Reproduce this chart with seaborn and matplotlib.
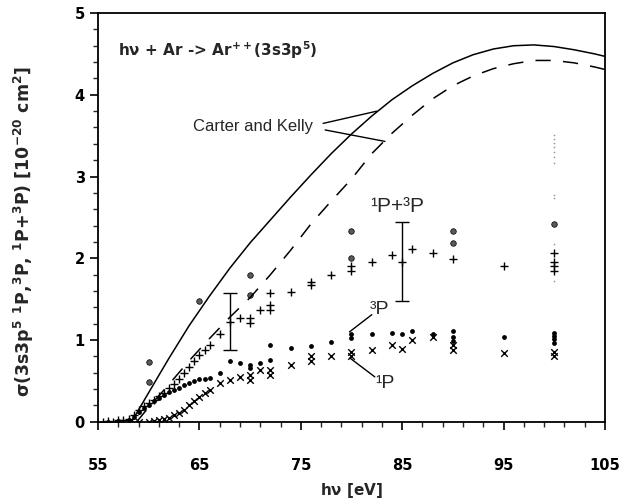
import matplotlib
matplotlib.use("Agg")
import matplotlib.pyplot as plt
import pandas as pd
import seaborn as sns

# Carter and Kelly theory curves
ck_solid_x = [58.3, 60, 62, 64, 66, 68, 70, 72, 74, 76, 78, 80, 82, 84, 86, 88, 90, 92, 94, 96, 98, 100, 102, 104, 105]
ck_solid_y = [0.0, 0.36, 0.78, 1.18, 1.54, 1.88, 2.19, 2.47, 2.75, 3.02, 3.28, 3.52, 3.74, 3.94, 4.11, 4.26, 4.39, 4.49, 4.56, 4.60, 4.61, 4.59, 4.55, 4.50, 4.47]
ck_dash_x = [58.8, 60, 62, 64, 66, 68, 70, 72, 74, 76, 78, 80, 82, 84, 86, 88, 90, 92, 94, 96, 98, 100, 102, 104, 105]
ck_dash_y = [0.0, 0.18, 0.46, 0.75, 1.02, 1.28, 1.52, 1.80, 2.10, 2.42, 2.70, 2.97, 3.28, 3.53, 3.75, 3.95, 4.11, 4.23, 4.32, 4.38, 4.42, 4.42, 4.39, 4.34, 4.31]

# 1P+3P (plus markers)
sum_x = [55.5, 56, 56.5, 57, 57.5, 58, 58.5, 59, 59.5, 60, 60.5, 61, 61.5, 62, 62.5, 63, 63.5, 64, 64.5, 65, 65.5,
         66, 67, 68, 69, 70, 70, 71, 72, 72, 72, 74, 76, 76, 78, 80, 80, 82, 84, 85, 86, 88, 90, 95, 100, 100, 100, 100]
sum_y = [0.00, 0.01, 0.00, 0.02, 0.02, 0.04, 0.08, 0.14, 0.19, 0.23, 0.27, 0.31, 0.35, 0.41, 0.46, 0.53, 0.60, 0.67, 0.75, 0.82, 0.88,
         0.94, 1.08, 1.22, 1.27, 1.27, 1.21, 1.37, 1.43, 1.37, 1.57, 1.59, 1.71, 1.67, 1.80, 1.90, 1.85, 1.96, 2.04, 1.96, 2.11, 2.06, 1.99, 1.90, 2.06, 1.96, 1.90, 1.84]

# 3P (dots)
p3_x = [56, 57, 58, 58.5, 59, 59.5, 60, 60.5, 61, 61.5, 62, 62.5, 63, 63.5, 64, 64.5, 65, 65.5,
        66, 67, 68, 69, 70, 70, 71, 72, 72, 74, 76, 78, 80, 80, 82, 84, 85, 86, 88, 90, 90, 90, 95, 100, 100, 100, 100]
p3_y = [0.00, 0.01, 0.02, 0.06, 0.12, 0.17, 0.21, 0.25, 0.29, 0.33, 0.36, 0.39, 0.42, 0.45, 0.47, 0.50, 0.52, 0.53,
        0.54, 0.60, 0.74, 0.72, 0.70, 0.66, 0.72, 0.76, 0.94, 0.90, 0.93, 0.98, 1.07, 1.02, 1.07, 1.09, 1.07, 1.11, 1.07, 1.11, 1.04, 0.99, 1.04, 1.09, 1.05, 1.01, 0.97]

# 1P (crosses)
p1_x = [59, 60, 60.5, 61, 61.5, 62, 62.5, 63, 63.5, 64, 64.5, 65, 65.5,
        66, 67, 68, 69, 70, 70, 71, 72, 72, 74, 76, 76, 78, 80, 80, 82, 84, 85, 86, 88, 90, 90, 95, 100, 100]
p1_y = [0.00, 0.00, 0.01, 0.02, 0.03, 0.05, 0.08, 0.11, 0.15, 0.20, 0.25, 0.30, 0.35,
        0.39, 0.47, 0.51, 0.55, 0.57, 0.51, 0.64, 0.64, 0.57, 0.70, 0.80, 0.74, 0.80, 0.86, 0.80, 0.88, 0.94, 0.89, 1.00, 1.04, 0.94, 0.88, 0.84, 0.86, 0.80]

# other measurement (grey dots)
oth_x = [60, 60, 65, 70, 70, 80, 80, 90, 90, 100]
oth_y = [0.73, 0.49, 1.48, 1.80, 1.55, 2.33, 2.00, 2.33, 2.19, 2.42]

# faint column at 100 eV
faint_x = [100, 100, 100, 100, 100, 100, 100, 100, 100, 100, 100]
faint_y = [3.51, 3.46, 3.41, 3.36, 3.30, 3.24, 3.17, 2.78, 2.74, 2.17, 1.72]

# error bars
err_x = [68, 85]
err_y = [1.225, 1.965]
err_d = [0.345, 0.485]

x_major = [55, 65, 75, 85, 95, 105]
x_minor = list(range(57, 105, 2))
y_major = [0, 1, 2, 3, 4, 5]
y_minor = [i / 5 for i in range(26)]

sns.set_style("white")
plt.rcParams['font.family'] = ['DejaVu Sans']
plt.rcParams['mathtext.fontset'] = 'dejavusans'
plt.rcParams['mathtext.default'] = 'bf'

fig = plt.figure(figsize=(6.21, 5.01), dpi=100)
ax = fig.add_axes([0.158, 0.158, 0.816, 0.816])

sns.lineplot(x=ck_solid_x, y=ck_solid_y, color='k', lw=1.1, ax=ax, sort=False, estimator=None)
sns.lineplot(x=ck_dash_x, y=ck_dash_y, color='k', lw=1.1, ax=ax, sort=False, estimator=None,
             linestyle=(0, (10, 8)))

sns.scatterplot(x=sum_x, y=sum_y, marker='+', color='k', s=40, linewidth=1.0, ax=ax)
sns.scatterplot(x=p3_x, y=p3_y, marker='o', color='k', s=12, linewidth=0, ax=ax)
sns.scatterplot(x=p1_x, y=p1_y, marker='x', color='k', s=22, linewidth=1.0, ax=ax)
sns.scatterplot(x=oth_x, y=oth_y, marker='o', color='0.35', edgecolor='k', s=16, linewidth=0.5, ax=ax)
sns.scatterplot(x=faint_x, y=faint_y, marker='.', color='0.6', s=6, linewidth=0, ax=ax)

ax.errorbar(err_x, err_y, yerr=err_d, fmt='none', ecolor='k', elinewidth=1.0, capsize=5, capthick=1.0)

# labels on the plot
ax.text(57.0, 4.55, r"h$\nu$ + Ar -> Ar$^{++}$(3s3p$^{5}$)", fontsize=11, fontweight='bold', va='center')
ax.text(64.4, 3.61, "Carter and Kelly", fontsize=12, family='Liberation Sans', va='center')
line_kw = dict(arrowstyle='-', lw=1.0, color='k', shrinkA=0, shrinkB=0)
ax.annotate('', xy=(82.5, 3.80), xytext=(77.2, 3.65), arrowprops=line_kw)
ax.annotate('', xy=(83.3, 3.43), xytext=(77.4, 3.57), arrowprops=line_kw)
ax.text(81.8, 2.63, "¹P+³P", fontsize=15, family='Liberation Sans', va='center')
ax.text(81.8, 1.37, "³P", fontsize=14, family='Liberation Sans', va='center')
ax.annotate('', xy=(79.8, 1.10), xytext=(82.0, 1.31), arrowprops=line_kw)
ax.text(82.3, 0.47, "¹P", fontsize=14, family='Liberation Sans', va='center')
ax.annotate('', xy=(79.85, 0.78), xytext=(82.3, 0.55), arrowprops=line_kw)

ax.set_xlim(55, 105)
ax.set_ylim(0, 5)
ax.set_xticks(x_major)
ax.set_xticks(x_minor, minor=True)
ax.set_yticks(y_major)
ax.set_yticks(y_minor, minor=True)
ax.tick_params(axis='both', which='major', direction='out', length=6, width=1.2, labelsize=10.5, colors='k')
ax.tick_params(axis='both', which='minor', direction='out', length=3.5, width=1.0)
ax.tick_params(axis='x', which='major', pad=20)
ax.tick_params(bottom=True, left=True, top=False, right=False, which='both')
for lab in ax.get_xticklabels() + ax.get_yticklabels():
    lab.set_fontweight('bold')
for sp in ax.spines.values():
    sp.set_visible(True)
    sp.set_color('k')
    sp.set_linewidth(1.3)

ax.set_xlabel(r"h$\nu$ [eV]", fontsize=11, fontweight='bold', labelpad=6)
ax.set_ylabel(r"$\sigma$(3s3p$^{5}$ $^{1}$P,$^{3}$P, $^{1}$P+$^{3}$P) [10$^{-20}$ cm$^{2}$]",
              fontsize=12.5, fontweight='bold')
ax.yaxis.set_label_coords(-0.122, 0.465)

fig.savefig('out.png', dpi=100)
